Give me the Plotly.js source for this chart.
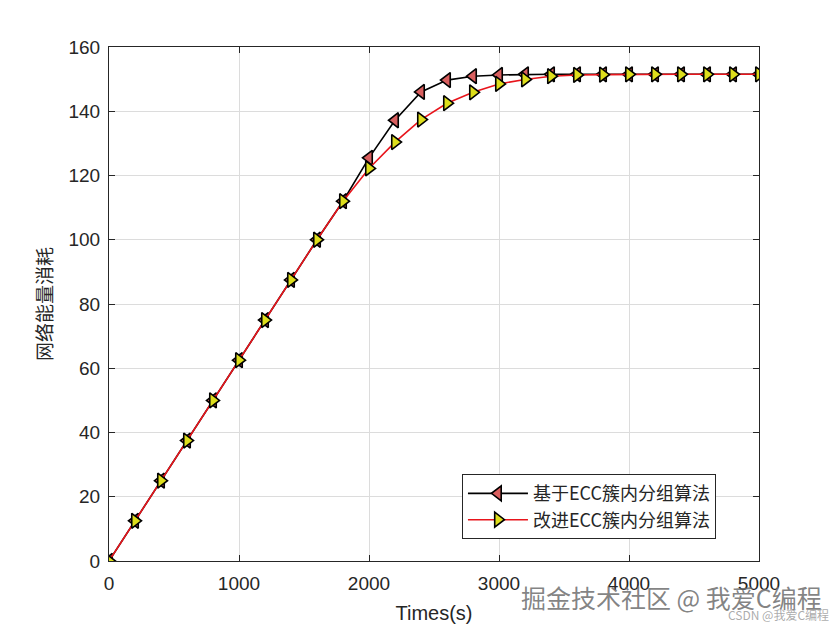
<!DOCTYPE html>
<html><head><meta charset="utf-8">
<script src="https://cdn.plot.ly/plotly-3.0.1.min.js"></script>
<style>body{margin:0;background:#fff}#c{width:840px;height:630px}</style>
</head><body><div id="c"></div>
<script>
var times = [0,200,400,600,800,1000,1200,1400,1600,1800,2000,2200,2400,2600,2800,3000,3200,3400,3600,3800,4000,4200,4400,4600,4800,5000];
var energyBase = [0,12.5,25,37.5,50,62.5,75,87.5,100,112,125.5,137.2,146,149.7,150.9,151.3,151.5,151.5,151.5,151.5,151.5,151.5,151.5,151.5,151.5,151.5];
var energyImproved = [0,12.5,25,37.5,50,62.5,75,87.5,100,112,122.2,130.4,137.4,142.5,145.9,148.5,149.9,150.9,151.3,151.4,151.5,151.5,151.5,151.5,151.5,151.5];
var seriesNames = ['基于ECC簇内分组算法','改进ECC簇内分组算法'];
var xTicks = [0,1000,2000,3000,4000,5000];
var yTicks = [0,20,40,60,80,100,120,140,160];

var traces = [
 {x: times, y: energyBase, name: seriesNames[0], mode: 'lines+markers',
  line: {color: '#000000', width: 1.6},
  marker: {symbol: 'triangle-left', size: 13, color: '#d95f5f', line: {color: '#000000', width: 1.6}}},
 {x: times, y: energyImproved, name: seriesNames[1], mode: 'lines+markers',
  line: {color: '#e8141b', width: 1.6},
  marker: {symbol: 'triangle-right', size: 13, color: '#dede1c', line: {color: '#000000', width: 1.6}}}
];

var axisCommon = {
  showline: true, linecolor: '#262626', linewidth: 1, mirror: 'ticks',
  ticks: 'inside', ticklen: 6, tickcolor: '#262626', tickwidth: 1,
  showgrid: true, gridcolor: '#dcdcdc', gridwidth: 1, zeroline: false,
  tickfont: {family: 'Liberation Sans, Arial, sans-serif', size: 19, color: '#262626'}
};

var layout = {
  width: 840, height: 630,
  margin: {l: 109, r: 81, t: 47, b: 69},
  paper_bgcolor: '#ffffff', plot_bgcolor: '#ffffff',
  showlegend: true,
  xaxis: Object.assign({}, axisCommon, {range: [0, 5000], tickvals: xTicks, ticklabelstandoff: 5,
    title: {text: 'Times(s)', standoff: 13, font: {family: 'Liberation Sans, Arial, sans-serif', size: 20, color: '#262626'}}}),
  yaxis: Object.assign({}, axisCommon, {range: [0, 160], tickvals: yTicks, ticklabelstandoff: 4,
    title: {text: '网络能量消耗', standoff: 10, font: {family: 'Noto Sans CJK SC, sans-serif', size: 19, color: '#262626'}}}),
  legend: {x: 0.543, y: 0.169, xanchor: 'left', yanchor: 'top',
    bgcolor: '#ffffff', bordercolor: '#262626', borderwidth: 1,
    font: {family: 'Noto Sans CJK SC, sans-serif', size: 18, color: '#262626'},
    tracegroupgap: 0, itemwidth: 60},
  annotations: [
    {text: '掘金技术社区 @ 我爱C编程', xref: 'paper', yref: 'paper', x: 1.1, y: -0.07,
     xanchor: 'right', yanchor: 'middle', showarrow: false,
     font: {family: 'Noto Sans CJK SC, sans-serif', size: 25, color: 'rgba(110,110,110,0.85)'}},
    {text: 'CSDN @我爱C编程', xref: 'paper', yref: 'paper', x: 1.11, y: -0.104,
     xanchor: 'right', yanchor: 'middle', showarrow: false,
     font: {family: 'Noto Sans CJK SC, sans-serif', size: 12, color: 'rgba(150,150,150,0.8)'}}
  ]
};

Plotly.newPlot('c', traces, layout, {displayModeBar: false, staticPlot: true});
</script>
</body></html>
